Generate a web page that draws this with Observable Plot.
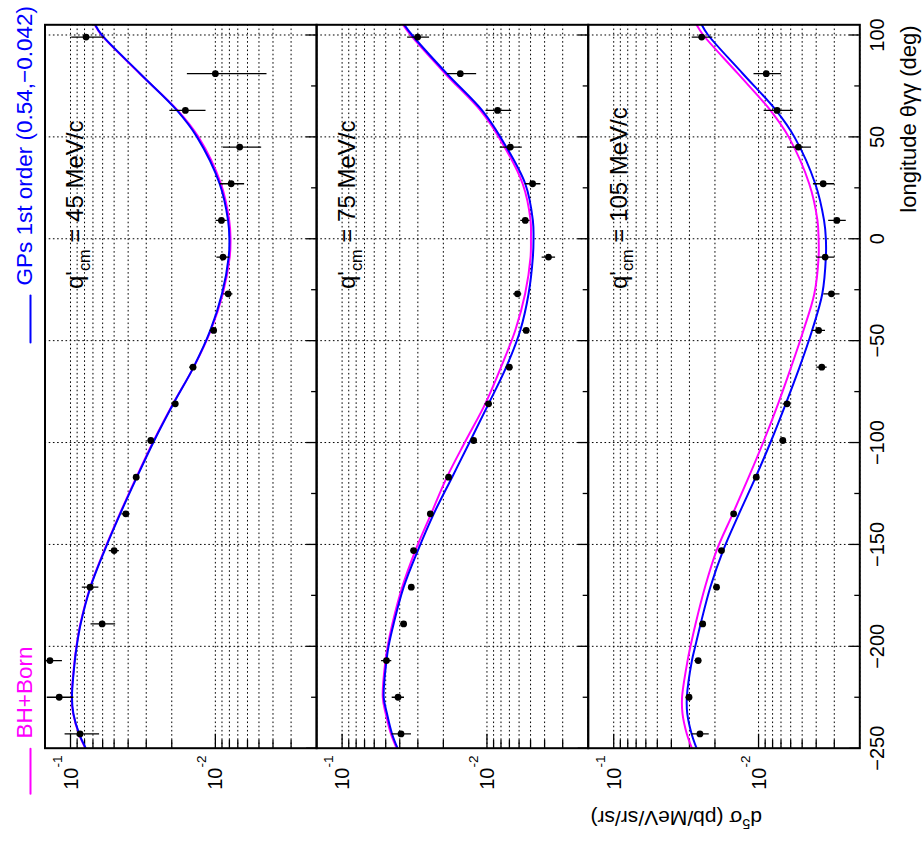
<!DOCTYPE html>
<html>
<head>
<meta charset="utf-8">
<script src="https://cdn.jsdelivr.net/npm/d3@7"></script>
<script src="https://cdn.jsdelivr.net/npm/@observablehq/plot@0.6"></script>
<style>
html, body { margin: 0; padding: 0; background: #fff; overflow: hidden; }
#chart { position: relative; width: 923px; height: 843px; }
</style>
</head>
<body>
<div id="chart"></div>
<script>
// ---------- data ----------
const panels = ["45", "75", "105"];
const pointAngles = [99, 81, 63, 45, 27, 9, -9, -27, -45, -63, -81, -99, -117, -135, -153, -171, -189, -207, -225, -243];

const val45 = [0.0781, 0.0100, 0.0161, 0.00679, 0.00778, 0.00908, 0.00885, 0.00816, 0.01028, 0.01426, 0.01892, 0.0279, 0.0352, 0.0415, 0.0500, 0.0733, 0.0605, 0.1387, 0.1197, 0.0860];
const err45 = [0.020, 0.0056, 0.0045, 0.0020, 0.0015, 0.0008, 0.0009, 0.0006, 0.0006, 0.0008, 0.0010, 0.0012, 0.0015, 0.0027, 0.0040, 0.0096, 0.0117, 0.025, 0.025, 0.023];

const val75 = [0.0301, 0.01528, 0.00845, 0.0069, 0.00484, 0.00544, 0.00376, 0.00615, 0.00536, 0.00701, 0.00975, 0.01236, 0.0184, 0.0246, 0.0321, 0.0333, 0.0376, 0.0494, 0.0411, 0.0392];
const err75 = [0.0052, 0.0035, 0.0017, 0.0012, 0.0006, 0.0004, 0.0004, 0.0004, 0.0003, 0.0004, 0.0006, 0.0005, 0.0008, 0.0010, 0.0012, 0.0015, 0.0020, 0.0040, 0.0040, 0.0060];

const val105 = [0.0247, 0.00885, 0.00745, 0.00531, 0.00358, 0.00288, 0.00347, 0.00314, 0.00385, 0.00366, 0.00636, 0.0068, 0.01037, 0.01486, 0.01803, 0.0195, 0.0243, 0.0261, 0.0302, 0.0254];
const err105 = [0.0040, 0.0019, 0.0017, 0.0010, 0.0006, 0.0004, 0.0005, 0.0004, 0.0004, 0.0003, 0.0004, 0.0003, 0.0004, 0.0005, 0.0007, 0.0009, 0.0012, 0.0014, 0.0014, 0.0035];

const curveAngles = [105, 100, 81, 63, 50, 27, 9, 0, -9, -27, -45, -63, -81, -99, -117, -135, -153, -171, -189, -200, -207, -225, -233, -243, -250];

const gps45 = [0.0676, 0.0608, 0.0330, 0.0184, 0.0134, 0.00934, 0.00817, 0.0080, 0.00809, 0.0090, 0.01084, 0.01413, 0.0195, 0.0264, 0.0348, 0.0454, 0.0582, 0.0728, 0.0851, 0.0906, 0.0933, 0.0977, 0.0955, 0.0871, 0.0785];
const bh45  = [0.0680, 0.0612, 0.0332, 0.0182, 0.0131, 0.00915, 0.00802, 0.00786, 0.00796, 0.00888, 0.01075, 0.01410, 0.0196, 0.0266, 0.0351, 0.0457, 0.0586, 0.0732, 0.0855, 0.0910, 0.0937, 0.0981, 0.0959, 0.0875, 0.0790];

const gps75 = [0.0372, 0.0329, 0.0189, 0.0108, 0.00809, 0.00544, 0.00482, 0.00477, 0.00482, 0.00516, 0.00589, 0.00736, 0.00975, 0.0130, 0.0174, 0.0233, 0.0300, 0.0376, 0.0441, 0.0478, 0.0494, 0.0516, 0.0490, 0.0452, 0.0414];
const bh75  = [0.0380, 0.0337, 0.0194, 0.0111, 0.0083, 0.00567, 0.0050, 0.00497, 0.0050, 0.00545, 0.00638, 0.0080, 0.01028, 0.0140, 0.0189, 0.0243, 0.0312, 0.0385, 0.0450, 0.0485, 0.0502, 0.0524, 0.0500, 0.0460, 0.0420];

const gps105 = [0.0247, 0.0223, 0.01283, 0.00757, 0.00566, 0.00406, 0.00353, 0.00343, 0.00343, 0.00363, 0.00427, 0.00521, 0.00649, 0.00817, 0.01047, 0.01365, 0.01758, 0.02153, 0.02512, 0.02735, 0.02884, 0.03126, 0.03105, 0.02897, 0.02679];
const bh105  = [0.0268, 0.0241, 0.01387, 0.00828, 0.0062, 0.00447, 0.00392, 0.00385, 0.00385, 0.00412, 0.00490, 0.00596, 0.00733, 0.00918, 0.01170, 0.01507, 0.0195, 0.02344, 0.02723, 0.02951, 0.03090, 0.03373, 0.0335, 0.03126, 0.02884];

const angleTicks = [100, 50, 0, -50, -100, -150, -200, -250];
const angleMinorTicks = [75, 25, -25, -75, -125, -175, -225];
const angleGrid = [100, 50, 0, -50, -100, -150, -200];
const logMajor = [0.1, 0.01];
const logLabels = ["10^{-1}", "10^{-2}"];
const logMinor = [0.09, 0.08, 0.07, 0.06, 0.05, 0.04, 0.03, 0.02, 0.009, 0.008, 0.007, 0.006, 0.005, 0.004, 0.003];
const logGrid = [0.1, 0.09, 0.08, 0.07, 0.06, 0.05, 0.04, 0.03, 0.02, 0.01, 0.009, 0.008, 0.007, 0.006, 0.005, 0.004, 0.003, 0.002];

const legendLabels = ["BH+Born", "GPs 1st order (0.54,\u22120.042)"];
const xTitle = "longitude \u03b8\u03b3\u03b3 (deg)";
const yTitle = "d^{5}\u03c3 (pb/MeV/sr/sr)";

// ---------- layout ----------
const W = 923, H = 843;
const frameTop = 24.3, frameBottom = 747.7;
const panelLeft = [44.5, 316.1, 587.7];
const panelW = 271.6;
const BLUE = "#0000ff", MAGENTA = "#ff00ff";
const FONT = "'Liberation Sans', Arial, Helvetica, sans-serif";
const dotted = {stroke: "black", strokeWidth: 1, strokeDasharray: "1.6,2.6"};

const values = [val45, val75, val105];
const errors = [err45, err75, err105];
const gpsCurves = [gps45, gps75, gps105];
const bhCurves = [bh45, bh75, bh105];

const stroke1 = {draw(ctx, l) { ctx.moveTo(0, 0); ctx.lineTo(0, -l); }};

function panelPlot(i) {
  const pts = pointAngles.map((a, k) => ({angle: a, value: values[i][k], lo: values[i][k] - errors[i][k], hi: values[i][k] + errors[i][k]}));
  const gps = curveAngles.map((a, k) => ({angle: a, value: gpsCurves[i][k]}));
  const bh = curveAngles.map((a, k) => ({angle: a, value: bhCurves[i][k]}));
  const marks = [
    Plot.ruleX(logGrid, dotted),
    Plot.ruleY(angleGrid, dotted),
    Plot.axisY(angleTicks, {anchor: "right", tickSize: 11, insetRight: 11, fill: "none", stroke: "black", strokeWidth: 1.3, label: null}),
    Plot.axisY(angleMinorTicks, {anchor: "right", tickSize: 6, insetRight: 6, fill: "none", stroke: "black", strokeWidth: 1.3, label: null}),
    Plot.axisX(logMajor, {anchor: "bottom", tickSize: 14, insetBottom: 14, fill: "none", stroke: "black", strokeWidth: 1.3, label: null}),
    Plot.axisX(logMinor, {anchor: "bottom", tickSize: 8, insetBottom: 8, fill: "none", stroke: "black", strokeWidth: 1.3, label: null}),
    Plot.line(bh, {x: "value", y: "angle", stroke: MAGENTA, strokeWidth: 2, curve: "catmull-rom", clip: true}),
    Plot.line(gps, {x: "value", y: "angle", stroke: BLUE, strokeWidth: 2, curve: "catmull-rom", clip: true}),
    Plot.ruleY(pts, {y: "angle", x1: "lo", x2: "hi", stroke: "black", strokeWidth: 1.3, clip: true}),
    Plot.dot(pts, {x: "value", y: "angle", r: 3.4, fill: "black", stroke: null, clip: true}),
    Plot.frame({stroke: "black", strokeWidth: 2}),
    Plot.text(logMajor, {x: d => d, frameAnchor: "bottom", dx: 7, dy: 7.3, rotate: -90, textAnchor: "end", fontSize: 20, fill: "black", text: (d, k) => logLabels[k]}),
    Plot.text([`q'_{cm} = ${panels[i]} MeV/c`], {frameAnchor: "top-left", dx: 21.4, dy: 264.2, rotate: -90, textAnchor: "start", fontSize: 24, fill: "black", text: d => d})
  ];
  if (i === 0) {
    marks.push(
      Plot.text([legendLabels[0]], {frameAnchor: "bottom-left", lineAnchor: "middle", dx: -20, dy: -9.7, rotate: -90, textAnchor: "start", fontSize: 22.5, fill: MAGENTA, text: d => d}),
      Plot.vector([0], {frameAnchor: "bottom-left", dx: -14.5, dy: 0.5, length: 45, rotate: 180, anchor: "start", shape: stroke1, stroke: MAGENTA, strokeWidth: 2}),
      Plot.text([legendLabels[1]], {frameAnchor: "top-left", lineAnchor: "middle", dx: -20, dy: 260.7, rotate: -90, textAnchor: "start", fontSize: 22.5, fill: BLUE, text: d => d}),
      Plot.vector([0], {frameAnchor: "top-left", dx: -14.5, dy: 270.7, length: 47, rotate: 180, anchor: "start", shape: stroke1, stroke: BLUE, strokeWidth: 2})
    );
  }
  if (i === 2) {
    marks.push(
      Plot.text(angleTicks, {y: d => d, frameAnchor: "right", lineAnchor: "middle", dx: 18, rotate: -90, textAnchor: "middle", fontSize: 20, fill: "black", text: d => d < 0 ? "\u2212" + Math.abs(d) : String(d)}),
      Plot.text([xTitle], {frameAnchor: "top-right", lineAnchor: "middle", dx: 49.2, dy: 0.7, rotate: -90, textAnchor: "end", fontSize: 22, fill: "black", text: d => d}),
      Plot.text([yTitle], {frameAnchor: "bottom-left", dx: 2.3, dy: 62.3, rotate: 180, textAnchor: "end", fontSize: 21, fill: "black", text: d => d})
    );
  }
  return Plot.plot({
    width: W, height: H,
    marginLeft: panelLeft[i],
    marginRight: W - panelLeft[i] - panelW,
    marginTop: frameTop,
    marginBottom: H - frameBottom,
    x: {type: "log", domain: [0.15, 0.002]},
    y: {type: "linear", domain: [-250, 105]},
    style: {background: "transparent", fontFamily: FONT, position: "absolute", left: "0px", top: "0px", overflow: "visible"},
    marks
  });
}

// rich text: ^{..} superscript, _{..} subscript
function richify(svg) {
  const ns = "http://www.w3.org/2000/svg";
  svg.querySelectorAll("text").forEach(t => {
    const s = t.textContent;
    if (!/[_^]\{/.test(s)) return;
    const fs = parseFloat(getComputedStyle(t).fontSize) || 16;
    const re = /([_^])\{([^}]*)\}/g;
    const parts = [];
    let i = 0, m;
    while ((m = re.exec(s))) {
      if (m.index > i) parts.push({text: s.slice(i, m.index), kind: "n"});
      parts.push({text: m[2], kind: m[1]});
      i = re.lastIndex;
    }
    if (i < s.length) parts.push({text: s.slice(i), kind: "n"});
    const endsWithSup = parts.length > 1 && parts[parts.length - 1].kind === "^";
    while (t.firstChild) t.removeChild(t.firstChild);
    let cur = 0;
    for (const p of parts) {
      const target = p.kind === "^" ? -(endsWithSup ? 0.8 : 0.42) * fs : p.kind === "_" ? 0.28 * fs : 0;
      const ts = document.createElementNS(ns, "tspan");
      if (target !== cur) ts.setAttribute("dy", (target - cur).toFixed(2));
      if (p.kind !== "n") ts.setAttribute("font-size", (0.68 * fs).toFixed(2));
      ts.textContent = p.text;
      t.appendChild(ts);
      cur = target;
    }
  });
}

const chart = document.getElementById("chart");
for (let i = 0; i < 3; i++) {
  const svg = panelPlot(i);
  svg.style.position = "absolute";
  svg.style.left = "0px";
  svg.style.top = "0px";
  svg.style.background = "transparent";
  svg.style.fontFamily = FONT;
  chart.appendChild(svg);
  richify(svg);
}
</script>
</body>
</html>
